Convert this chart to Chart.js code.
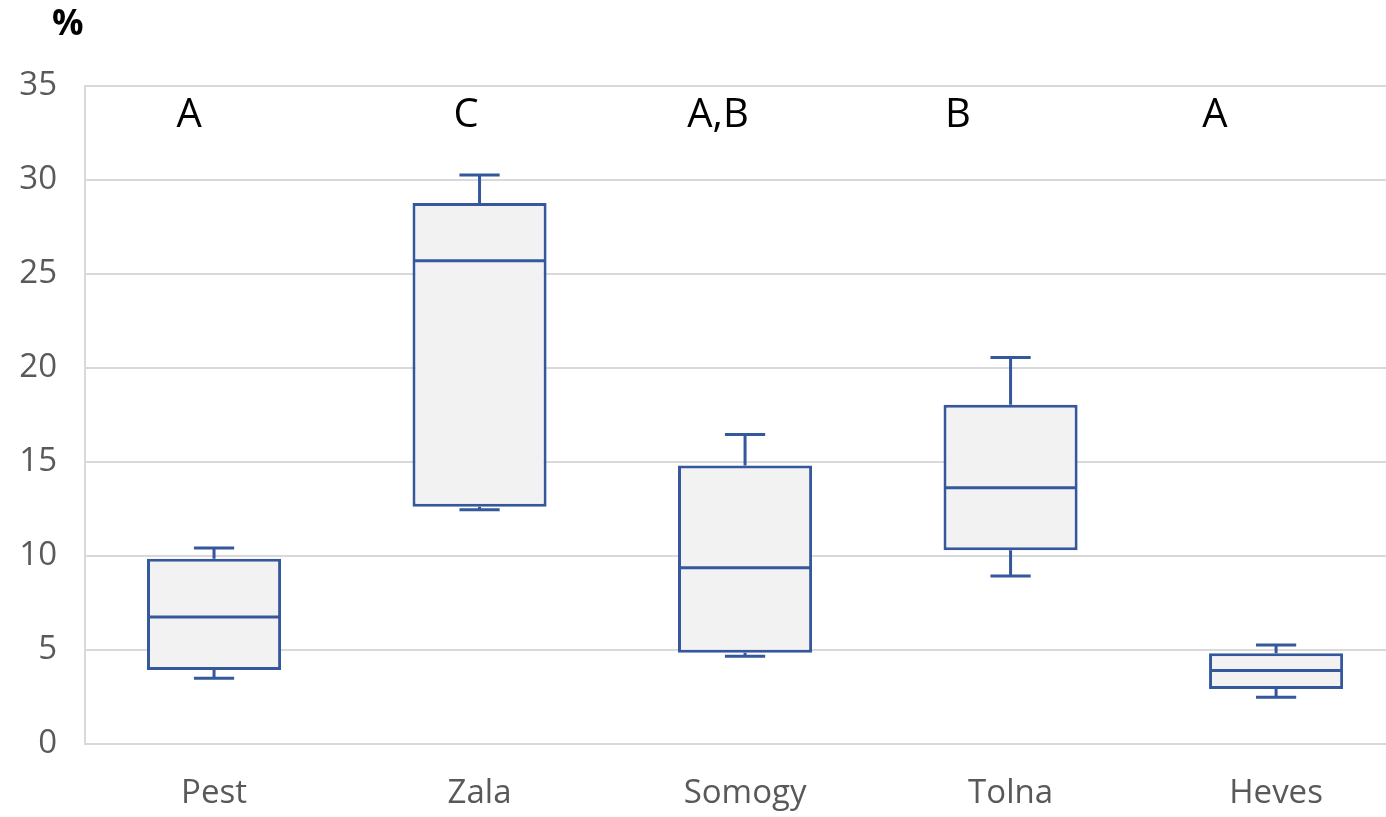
<!DOCTYPE html>
<html>
<head>
<meta charset="utf-8">
<style>
  html, body { margin: 0; padding: 0; background: #ffffff; }
  #wrap { width: 1386px; height: 817px; position: relative; }
</style>
<script src="https://cdn.jsdelivr.net/npm/chart.js@4/dist/chart.umd.min.js"></script>
</head>
<body>
<div id="wrap"><canvas id="chart"></canvas></div>
<script>
// Box plot statistics per county (%)
const regions      = ['Pest', 'Zala', 'Somogy', 'Tolna', 'Heves'];
const minValues    = [3.50, 12.46, 4.67, 8.94, 2.49];
const q1Values     = [3.94, 12.62, 4.85, 10.30, 2.92];
const medianValues = [6.75, 25.71, 9.37, 13.63, 3.91];
const q3Values     = [9.85, 28.78, 14.82, 18.05, 4.83];
const maxValues    = [10.43, 30.26, 16.46, 20.56, 5.26];
// Significance groups shown above each box
const groupLetters = ['A', 'C', 'A,B', 'B', 'A'];
const yTicks = [0, 5, 10, 15, 20, 25, 30, 35];

const BOX_COLOR = '#34589b';
const BOX_FILL = '#f2f2f2';
const GRID_COLOR = '#d9d9d9';
const LABEL_COLOR = '#595959';
const FONT = "'Open Sans', 'DejaVu Sans', sans-serif";

// Whiskers, caps and median lines drawn on top of the floating bars
const boxPlotPlugin = {
  id: 'boxWhiskers',
  afterDatasetsDraw(chart, args, opts) {
    const ctx = chart.ctx;
    const y = chart.scales.y;
    const meta = chart.getDatasetMeta(0);
    ctx.save();
    ctx.strokeStyle = BOX_COLOR;
    ctx.lineWidth = 3;
    meta.data.forEach((bar, i) => {
      const cx = bar.x;
      const half = bar.width / 2;
      const capHalf = bar.width * opts.capRatio / 2;
      const yMin = y.getPixelForValue(minValues[i]);
      const yQ1 = y.getPixelForValue(q1Values[i]);
      const yMed = y.getPixelForValue(medianValues[i]);
      const yQ3 = y.getPixelForValue(q3Values[i]);
      const yMax = y.getPixelForValue(maxValues[i]);
      ctx.beginPath();
      // median
      ctx.moveTo(cx - half + 1.5, yMed);
      ctx.lineTo(cx + half - 1.5, yMed);
      // upper whisker + cap
      ctx.moveTo(cx, yQ3);
      ctx.lineTo(cx, yMax);
      ctx.moveTo(cx - capHalf, yMax);
      ctx.lineTo(cx + capHalf, yMax);
      // lower whisker + cap
      ctx.moveTo(cx, yQ1);
      ctx.lineTo(cx, yMin);
      ctx.moveTo(cx - capHalf, yMin);
      ctx.lineTo(cx + capHalf, yMin);
      ctx.stroke();
    });
    ctx.restore();
  }
};

// Group letters and the unit label
const annotationPlugin = {
  id: 'groupLetters',
  afterDraw(chart, args, opts) {
    const ctx = chart.ctx;
    const xs = chart.scales.x;
    const ys = chart.scales.y;
    ctx.save();
    ctx.fillStyle = '#000000';
    ctx.textAlign = 'center';
    ctx.textBaseline = 'middle';
    ctx.font = "40px " + FONT;
    groupLetters.forEach((txt, i) => {
      ctx.fillText(txt, xs.getPixelForValue(opts.letterX[i]), ys.getPixelForValue(opts.letterY));
    });
    ctx.font = "bold 35px " + FONT;
    ctx.textAlign = 'left';
    ctx.fillText('%', 52, 25);
    ctx.restore();
  }
};

const chart = new Chart(document.getElementById('chart'), {
  type: 'bar',
  data: {
    datasets: [{
      data: regions.map((r, i) => ({ x: i, y: [q1Values[i], q3Values[i]] })),
      backgroundColor: BOX_FILL,
      borderColor: BOX_COLOR,
      borderWidth: 3,
      borderSkipped: false,
      barPercentage: 0.505,
      categoryPercentage: 1.0
    }]
  },
  options: {
    responsive: true,
    maintainAspectRatio: false,
    animation: false,
    layout: { padding: { top: 86, left: 0, right: 0, bottom: 0 } },
    plugins: {
      legend: { display: false },
      tooltip: { enabled: false },
      boxWhiskers: { capRatio: 0.3 },
      groupLetters: {
        letterX: [-0.094, 0.949, 1.898, 2.802, 3.770],
        letterY: 33.4
      }
    },
    scales: {
      x: {
        type: 'linear',
        offset: false,
        min: -0.486,
        max: 4.414,
        grid: { display: false, drawTicks: false, offset: false },
        border: { display: false },
        afterBuildTicks(scale) {
          scale.ticks = regions.map((r, i) => ({ value: i }));
        },
        afterFit(scale) { scale.height = 73; },
        ticks: {
          autoSkip: false,
          maxRotation: 0,
          padding: 30,
          color: LABEL_COLOR,
          font: { family: FONT, size: 33 },
          callback: (v) => regions[v] !== undefined ? regions[v] : ''
        }
      },
      y: {
        min: 0,
        max: 35,
        afterBuildTicks(scale) {
          scale.ticks = yTicks.map(v => ({ value: v }));
        },
        afterFit(scale) { scale.width = 85; },
        grid: { color: GRID_COLOR, lineWidth: 2, drawTicks: false },
        border: { display: true, color: GRID_COLOR, width: 2 },
        ticks: {
          padding: 28,
          color: LABEL_COLOR,
          font: { family: FONT, size: 33 }
        }
      }
    }
  },
  plugins: [boxPlotPlugin, annotationPlugin]
});
</script>
</body>
</html>
